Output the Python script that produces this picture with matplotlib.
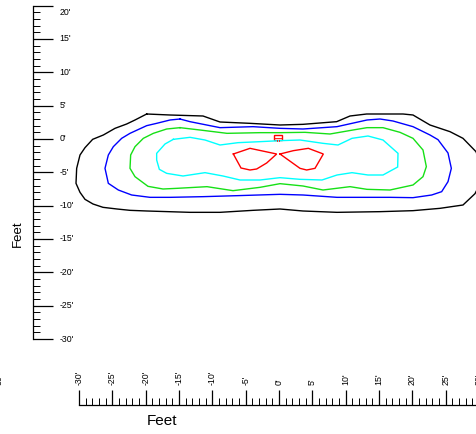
import numpy as np
import matplotlib.pyplot as plt
from matplotlib.patches import Rectangle

plt.rcParams['font.family'] = ['Liberation Sans', 'DejaVu Sans']

# isofootcandle contours, vertices in feet (x, y)
black_x = [-19.85, -16.35, -11.4, -8.85, -4.35, 0.15, 3.6, 8.65, 10.65, 13.15, 18.6, 20.1,
           22.65, 25.65, 27.6, 29.55, 30.3, 30.45, 29.4, 27.6, 24.15, 20.1, 15.15, 8.7,
           3.6, 0.15, -3.9, -8.85, -13.35, -19.8, -22.35, -24.3, -26.4, -27.9, -29.1,
           -29.85, -30.45, -30.35, -29.85, -29.1, -27.95, -26.35, -24.6, -22.85, -21.6]
black_y = [3.75, 3.6, 3.45, 2.55, 2.35, 2.1, 2.2, 2.6, 3.45, 3.75, 3.75, 3.6,
           2.1, 1.1, 0.1, -1.9, -3.9, -6.15, -8.2, -9.9, -10.4, -10.75, -10.9, -11.0,
           -10.8, -10.5, -10.7, -11.0, -11.0, -10.8, -10.7, -10.5, -10.25, -9.75, -9.05,
           -8.0, -6.65, -4.4, -2.4, -1.3, -0.05, 0.6, 1.6, 2.25, 2.85]

blue_x = [-14.85, -13.35, -8.85, -3.9, 0.15, 3.6, 8.7, 13.2, 15.15, 17.1, 20.1, 22.65,
          23.85, 25.35, 25.85, 25.35, 24.4, 22.9, 20.1, 16.65, 8.7, 3.6, 0.15, -6.3,
          -11.4, -16.35, -19.35, -22.1, -24.1, -25.6, -26.1, -25.6, -24.85, -23.6,
          -22.35, -19.85, -18.35, -16.35]
blue_y = [3.0, 2.6, 1.7, 1.85, 1.6, 1.5, 1.85, 2.85, 3.0, 2.7, 1.85, 0.6,
          -0.1, -2.1, -4.4, -6.4, -7.9, -8.4, -8.8, -8.75, -8.75, -8.4, -8.3, -8.5,
          -8.65, -8.75, -8.75, -8.4, -7.65, -6.65, -4.4, -2.4, -1.15, 0.1,
          0.85, 2.0, 2.35, 2.85]

green_x = [-14.85, -11.85, -7.8, -2.85, 0.15, 3.9, 7.65, 11.1, 13.2, 15.6, 18.15, 20.1,
           21.6, 22.1, 21.6, 20.1, 16.65, 13.2, 10.65, 6.6, 3.6, 0.15, -2.85, -6.9,
           -10.8, -15.3, -17.4, -19.65, -21.6, -22.35, -22.25, -21.6, -20.35, -18.85,
           -16.85]
green_y = [1.7, 1.35, 0.85, 0.95, 0.95, 1.0, 0.75, 1.35, 1.7, 1.7, 1.0, 0.1,
           -1.65, -4.15, -5.65, -6.9, -7.65, -7.55, -7.15, -7.65, -7.05, -6.7, -7.25, -7.75,
           -7.15, -7.4, -7.5, -7.1, -5.65, -4.4, -2.4, -1.15, 0.1, 0.85,
           1.5]

cyan_x = [-15.85, -13.35, -11.1, -8.85, -6.15, -2.85, 0.15, 3.15, 6.6, 8.85, 10.95, 13.35,
          15.6, 17.85, 17.8, 15.6, 13.35, 10.95, 8.7, 6.45, 3.15, 0.15, -2.85, -5.85,
          -8.4, -11.1, -14.4, -16.85, -17.95, -18.35, -18.35, -17.1]
cyan_y = [-0.05, 0.25, -0.15, -0.9, -0.55, -0.4, -0.25, -0.15, -0.65, -0.9, 0.1, 0.45,
          -0.15, -2.15, -4.2, -5.4, -5.4, -5.05, -5.4, -6.15, -6.05, -5.8, -6.15, -6.15,
          -5.55, -5.05, -5.55, -5.15, -4.55, -3.15, -2.15, -0.75]

red_left_x = [-6.85, -4.35, -0.35, -1.85, -3.35, -4.35, -5.7]
red_left_y = [-2.25, -1.4, -2.25, -3.6, -4.5, -4.65, -4.35]
red_right_x = [0.15, 2.15, 4.4, 6.65, 5.4, 4.15, 3.15]
red_right_y = [-2.25, -1.75, -1.4, -2.25, -4.4, -4.65, -4.4]

contours = [
    (black_x, black_y, 'black'),
    (blue_x, blue_y, '#0000ff'),
    (green_x, green_y, '#16e016'),
    (cyan_x, cyan_y, '#00ffff'),
    (red_left_x, red_left_y, '#ff0000'),
    (red_right_x, red_right_y, '#ff0000'),
]

# luminaire location
lum_x = -0.15
lum_y = 0.25

# rulers
x_major = [-30, -25, -20, -15, -10, -5, 0, 5, 10, 15, 20, 25, 30]
x_labels = ["-30'", "-25'", "-20'", "-15'", "-10'", "-5'", "0'", "5'", "10'", "15'", "20'", "25'", "30'"]
y_major = [20, 15, 10, 5, 0, -5, -10, -15, -20, -25, -30]
y_labels = ["20'", "15'", "10'", "5'", "0'", "-5'", "-10'", "-15'", "-20'", "-25'", "-30'"]

fig = plt.figure(figsize=(4.76, 4.34), dpi=100)
ax = fig.add_axes([0, 0, 1, 1])
ax.set_xlim(-41.85, 29.55)
ax.set_ylim(-44.25, 20.85)
ax.axis('off')

for xs, ys, col in contours:
    xs = np.append(xs, xs[0])
    ys = np.append(ys, ys[0])
    ax.plot(xs, ys, color=col, lw=1.0, solid_joinstyle='miter')

# luminaire symbol
ax.add_patch(Rectangle((lum_x - 0.55, lum_y - 0.35), 1.1, 0.7, fill=False,
                       edgecolor='#ff0000', lw=1.0))
ax.plot([lum_x - 0.55, lum_x + 0.55], [lum_y - 0.05, lum_y - 0.05], color='#ff0000', lw=0.6)
ax.plot([lum_x - 0.2, lum_x - 0.2], [lum_y - 0.35, lum_y - 0.55], color='#ff0000', lw=0.6)
ax.plot([lum_x + 0.2, lum_x + 0.2], [lum_y - 0.35, lum_y - 0.55], color='#ff0000', lw=0.6)

# vertical ruler (left)
ry = -36.9
ax.plot([ry, ry], [y_major[-1], y_major[0]], color='black', lw=0.9)
y_minor = np.arange(y_major[-1], y_major[0] + 1)
ax.hlines(y_minor, ry, ry + 1.05, color='black', lw=0.7)
ax.hlines(y_major, ry, ry + 3.0, color='black', lw=0.9)
for v, lab in zip(y_major, y_labels):
    ax.text(ry + 4.0, min(v, 19.0), lab, fontsize=6.3, ha='left', va='center')

# horizontal ruler (bottom)
rx = -39.9
ax.plot([x_major[0], x_major[-1]], [rx, rx], color='black', lw=0.9)
x_minor = np.arange(x_major[0], x_major[-1] + 1)
ax.vlines(x_minor, rx, rx + 1.0, color='black', lw=0.7)
ax.vlines(x_major, rx, rx + 2.25, color='black', lw=0.9)
for v, lab in zip(x_major, x_labels):
    ax.text(v, -36.9, lab, fontsize=6.3, rotation=90, ha='center', va='bottom')
ax.text(-41.9, -36.9, "30'", fontsize=6.3, rotation=90, ha='center', va='bottom')

ax.text(-17.55, -42.3, 'Feet', fontsize=11, ha='center', va='center')
ax.text(-39.15, -14.25, 'Feet', fontsize=9.5, rotation=90, ha='center', va='center')

fig.savefig('out.png', dpi=100)
